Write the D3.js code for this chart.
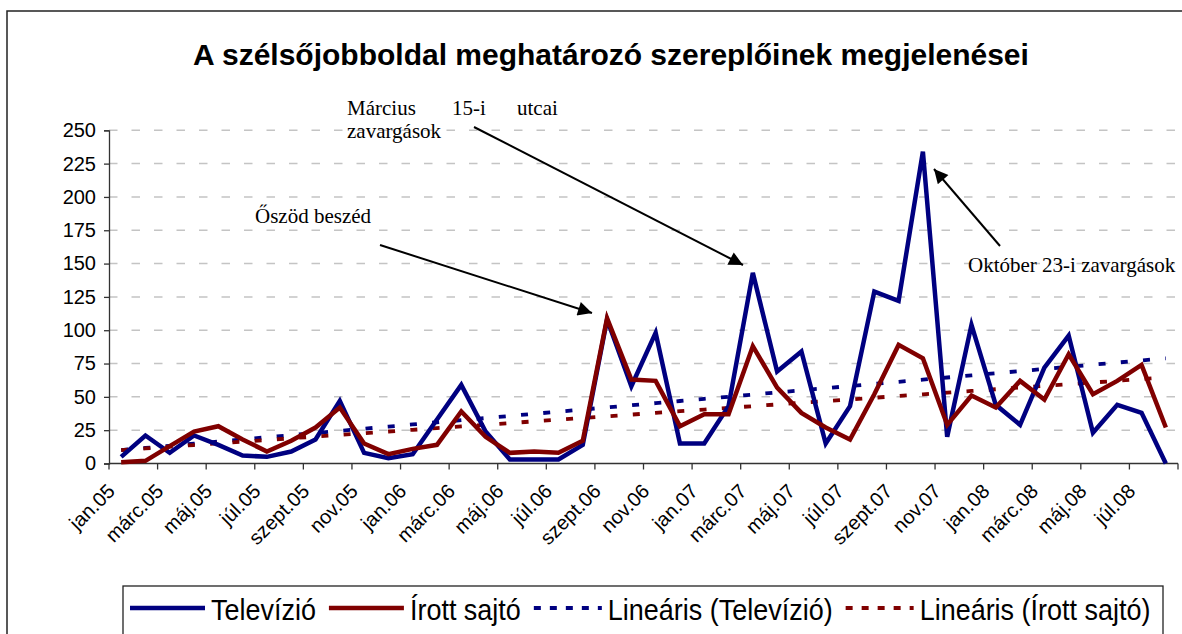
<!DOCTYPE html>
<html>
<head>
<meta charset="utf-8">
<script src="https://cdn.jsdelivr.net/npm/d3@7"></script>
<style>
  body { margin: 0; background: #fff; }
  text { font-family: "Liberation Sans", Arial, sans-serif; }
  .note { font-family: "Liberation Serif", "Times New Roman", serif; font-size: 21px; }
</style>
</head>
<body>
<script>
'use strict';

//data
var months = ['jan.05','febr.05','márc.05','ápr.05','máj.05','jún.05','júl.05','aug.05','szept.05','okt.05','nov.05','dec.05',
  'jan.06','febr.06','márc.06','ápr.06','máj.06','jún.06','júl.06','aug.06','szept.06','okt.06','nov.06','dec.06',
  'jan.07','febr.07','márc.07','ápr.07','máj.07','jún.07','júl.07','aug.07','szept.07','okt.07','nov.07','dec.07',
  'jan.08','febr.08','márc.08','ápr.08','máj.08','jún.08','júl.08','aug.08'];
var televizio = [5,21,8,21,14,6,5,9,18,47,8,4, 7,33,59,24,3,3,3,14,108,58,98,15, 15,43,143,69,84,15,43,129,122,234,20,104, 44,29,72,96,23,44,38,0];
var irottSajto = [1,2,13,24,28,18,9,17,27,42,15,7, 11,14,39,20,8,9,8,17,109,63,62,28, 37,37,88,57,38,27,18,52,89,79,29,51, 42,62,48,82,52,62,74,27];
var yTicks = [0,25,50,75,100,125,150,175,200,225,250];
var seriesNames = ['Televízió', 'Írott sajtó', 'Lineáris (Televízió)', 'Lineáris (Írott sajtó)'];

//general setup
var W = 1182, H = 634;
var plot = { left: 109, right: 1178, top: 130.3, bottom: 463.5 };
var blue = '#000080', red = '#800000';

var svg = d3.select('body').append('svg').attr('width', W).attr('height', H);

//outer border
svg.append('rect').attr('x', 7).attr('y', 11).attr('width', W).attr('height', H)
  .attr('fill', 'none').attr('stroke', '#222').attr('stroke-width', 1.5);

//title
svg.append('text').attr('x', 611).attr('y', 65).attr('text-anchor', 'middle')
  .style('font-size', '30px').style('font-weight', 'bold').text('A szélsőjobboldal meghatározó szereplőinek megjelenései');

//scales
var xBand = d3.scaleBand().domain(months).range([plot.left, plot.right]);
var x = function (m) { return xBand(m) + xBand.bandwidth() / 2; };
var y = d3.scaleLinear().domain([0, 250]).range([plot.bottom, plot.top]);

//grid
svg.append('g').selectAll('line').data(yTicks.slice(1)).enter().append('line')
  .attr('x1', plot.left).attr('x2', plot.right)
  .attr('y1', function (d) { return y(d); }).attr('y2', function (d) { return y(d); })
  .attr('stroke', '#c4c4c4').attr('stroke-width', 1.5).attr('stroke-dasharray', '8.5,14');

//y-axis
var yAxis = svg.append('g').attr('transform', 'translate(' + plot.left + ',0)')
  .call(d3.axisLeft(y).tickValues(yTicks).tickSize(5).tickPadding(8));
yAxis.select('.domain').attr('stroke', '#333').attr('stroke-width', 1.3);
yAxis.selectAll('.tick line').attr('stroke', '#333').attr('stroke-width', 1.3);
yAxis.selectAll('text').style('font-size', '20px').style('font-family', '"Liberation Sans", Arial, sans-serif').attr('fill', '#000');

//x-axis (ticks and labels every second month)
var tickMonths = months.filter(function (d, i) { return i % 2 === 0; });
var xAxis = svg.append('g').attr('transform', 'translate(0,' + plot.bottom + ')');
xAxis.append('line').attr('x1', plot.left).attr('x2', plot.right).attr('stroke', '#333').attr('stroke-width', 1.3);
xAxis.selectAll('.xt').data(tickMonths.concat([null])).enter().append('line')
  .attr('x1', function (d) { return d ? xBand(d) : plot.right; })
  .attr('x2', function (d) { return d ? xBand(d) : plot.right; })
  .attr('y1', 0).attr('y2', 6).attr('stroke', '#333').attr('stroke-width', 1.3);
xAxis.selectAll('.xl').data(tickMonths).enter().append('text')
  .attr('text-anchor', 'end').style('font-size', '20px')
  .attr('transform', function (d) { return 'translate(' + (x(d) - 5) + ',29) rotate(-45)'; })
  .text(function (d) { return d; });

//trend lines (least squares, like the spreadsheet's linear trend)
function trend(values) {
  var n = values.length, idx = d3.range(n);
  var mx = d3.mean(idx), my = d3.mean(values);
  var b = d3.sum(idx, function (i) { return (i - mx) * (values[i] - my); }) / d3.sum(idx, function (i) { return (i - mx) * (i - mx); });
  return idx.map(function (i) { return my + b * (i - mx); });
}
var line = d3.line().x(function (d, i) { return x(months[i]); }).y(function (d) { return y(d); });

svg.append('path').datum(trend(televizio)).attr('d', line).attr('fill', 'none')
  .attr('stroke', blue).attr('stroke-width', 3.8).attr('stroke-dasharray', '7,15.3');
svg.append('path').datum(trend(irottSajto)).attr('d', line).attr('fill', 'none')
  .attr('stroke', red).attr('stroke-width', 3.8).attr('stroke-dasharray', '7,15.3');

//series
svg.append('path').datum(televizio).attr('d', line).attr('fill', 'none')
  .attr('stroke', blue).attr('stroke-width', 4.5);
svg.append('path').datum(irottSajto).attr('d', line).attr('fill', 'none')
  .attr('stroke', red).attr('stroke-width', 4.5);

//annotations
svg.append('defs').append('marker').attr('id', 'arrow').attr('viewBox', '0 0 10 10').attr('refX', 10).attr('refY', 5)
  .attr('markerWidth', 8).attr('markerHeight', 7).attr('markerUnits', 'strokeWidth').attr('orient', 'auto')
  .append('path').attr('d', 'M0,0 L10,5 L0,10 z').attr('fill', '#000');

var arrows = [
  [380, 245, 592, 313],
  [474, 127, 743, 265],
  [1000, 246, 934, 169]
];
svg.selectAll('.arrow').data(arrows).enter().append('line')
  .attr('x1', function (d) { return d[0]; }).attr('y1', function (d) { return d[1]; })
  .attr('x2', function (d) { return d[2]; }).attr('y2', function (d) { return d[3]; })
  .attr('stroke', '#000').attr('stroke-width', 2).attr('marker-end', 'url(#arrow)');

var m15 = svg.append('text').attr('class', 'note').attr('y', 115);
m15.append('tspan').attr('x', 347).text('Március');
m15.append('tspan').attr('x', 452).text('15-i');
m15.append('tspan').attr('x', 517).text('utcai');
svg.append('text').attr('class', 'note').attr('x', 347).attr('y', 138).text('zavargások');
svg.append('text').attr('class', 'note').attr('x', 255).attr('y', 223).text('Őszöd beszéd');
svg.append('text').attr('class', 'note').attr('x', 968).attr('y', 272).text('Október 23-i zavargások');

//legend
var legendStyle = [
  { color: blue, dashed: false },
  { color: red, dashed: false },
  { color: blue, dashed: true },
  { color: red, dashed: true }
];
svg.append('rect').attr('x', 123).attr('y', 586).attr('width', 1040).attr('height', 60)
  .attr('fill', '#fff').attr('stroke', '#222').attr('stroke-width', 1.3);
var lx = 130;
seriesNames.forEach(function (name, i) {
  var st = legendStyle[i];
  var len = st.dashed ? 68 : 75;
  svg.append('line').attr('x1', lx).attr('x2', lx + len).attr('y1', 608).attr('y2', 608)
    .attr('stroke', st.color).attr('stroke-width', st.dashed ? 4 : 4.5)
    .attr('stroke-dasharray', st.dashed ? '7,9' : null);
  var t = svg.append('text').attr('transform', 'translate(' + (lx + len + 6) + ',620) scale(0.93,1)')
    .style('font-size', '29px').text(name);
  lx = lx + len + 6 + t.node().getComputedTextLength() * 0.93 + 13;
});
</script>
</body>
</html>
